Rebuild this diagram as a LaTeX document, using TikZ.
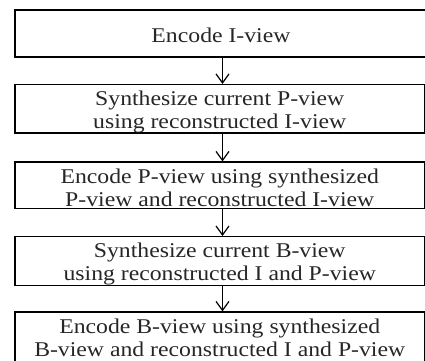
\documentclass[tikz,border=0pt]{standalone}
\usepackage{fontspec}
\setmainfont{Liberation Serif}[FakeStretch=1.13]
\usetikzlibrary{arrows.meta}
\newcommand{\toprl}[1]{\rule{0pt}{#1}}
\newcommand{\botrl}[1]{\rule[-#1]{0pt}{#1}}
\begin{document}
\begin{tikzpicture}[x=1pt,y=1pt,
  stepbox/.style={draw=black, line width=1.2pt, inner sep=0pt, align=center,
    minimum width=409.5pt, text=black!85,
    font=\fontsize{21}{23}\selectfont},
  flow/.style={line width=1.2pt, -{Straight Barb[length=9pt,width=13pt,line width=1.2pt]}}]
\useasboundingbox (0,0) rectangle (425,360);
\node[stepbox, minimum width=412pt, minimum height=47pt] (b1) at (221,326.5)
  {\toprl{32pt}Encode I-view\botrl{15pt}};
\node[stepbox, minimum height=47.6pt] (b2) at (219.75,251.2)
  {\toprl{21pt}Synthesize current P-view\\using reconstructed I-view\botrl{3.6pt}};
\node[stepbox, minimum height=46.5pt] (b3) at (219.75,174.75)
  {\toprl{21pt}Encode P-view using synthesized\\P-view and reconstructed I-view\botrl{2.5pt}};
\node[stepbox, minimum height=47.7pt] (b4) at (219.75,99.15)
  {\toprl{21pt}Synthesize current B-view\\using reconstructed I and P-view\botrl{3.7pt}};
\node[stepbox, minimum height=50pt] (b5) at (219.75,23)
  {\toprl{21pt}Encode B-view using synthesized\\B-view and reconstructed I and P-view\botrl{6pt}};
\draw[flow] ([xshift=1.5pt]b1.south) -- ([xshift=2.75pt]b2.north);
\draw[flow] ([xshift=2.75pt]b2.south) -- ([xshift=2.75pt]b3.north);
\draw[flow] ([xshift=2.75pt]b3.south) -- ([xshift=2.75pt]b4.north);
\draw[flow] ([xshift=2.75pt]b4.south) -- ([xshift=2.75pt]b5.north);
\end{tikzpicture}
\end{document}
